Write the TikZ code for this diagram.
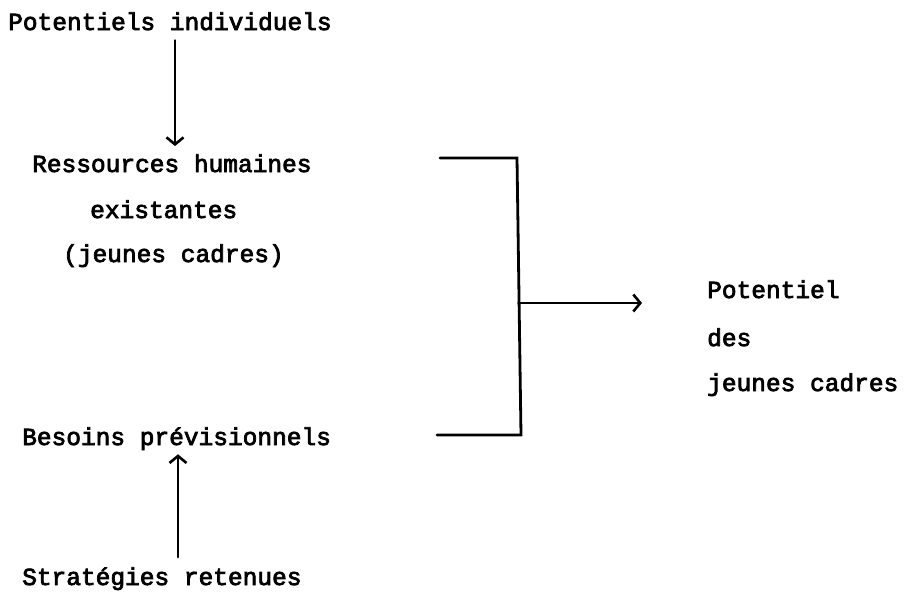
\documentclass[tikz,border=0pt]{standalone}
\usepackage{fontspec}
\newfontfamily\tw{Liberation Mono}[FakeBold=3]
\usetikzlibrary{arrows.meta}
\begin{document}
\begin{tikzpicture}[x=1pt,y=-1pt,
  lbl/.style={inner sep=0pt,font=\tw\fontsize{24.5}{30}\selectfont},
  ln/.style={line width=2.8pt,line cap=round,line join=miter},
  arr/.style={ln,-{Straight Barb[length=7pt,width=17pt,line width=2.6pt]}}]
\useasboundingbox (0,0) rectangle (905,592);
% left column
\node[lbl,anchor=base west] (pot) at (8,30) {Potentiels individuels};
\node[lbl,anchor=base west] (res) at (32,172) {Ressources humaines};
\node[lbl,anchor=base west] (exi) at (90,218) {existantes};
\node[lbl,anchor=base west] (jc) at (63,262) {(jeunes cadres)};
\node[lbl,anchor=base west] (bes) at (22,445) {Besoins prévisionnels};
\node[lbl,anchor=base west] (str) at (22,585) {Stratégies retenues};
% right column
\node[lbl,anchor=base west] (p1) at (707,298) {Potentiel};
\node[lbl,anchor=base west] (p2) at (707,346) {des};
\node[lbl,anchor=base west] (p3) at (707,391) {jeunes cadres};
% vertical arrows
\draw[arr] ([yshift=-10pt]pot.south -| 175,0) -- ([yshift=8pt]res.north -| 175,0);
\draw[arr] ([yshift=10pt]str.north -| 178,0) -- ([yshift=-4pt]bes.south -| 178,0);
% bracket
\coordinate (tl) at (440,158);
\coordinate (tr) at (517,158);
\coordinate (br) at (521,435);
\coordinate (bl) at (437,435);
\coordinate (mid) at (518.5,303);
\coordinate (tip) at (642,303);
\draw[ln] (tl) -- (tr) -- (br) -- (bl);
\draw[arr] (mid) -- (tip);
\end{tikzpicture}
\end{document}
